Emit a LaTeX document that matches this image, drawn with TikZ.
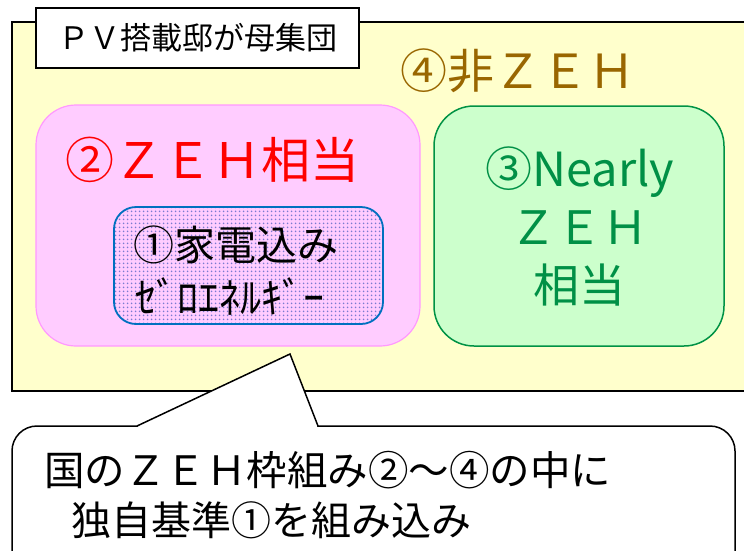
\documentclass[tikz,border=0pt]{standalone}
\usepackage{fontspec}
\setmainfont{Noto Sans CJK JP}
\usetikzlibrary{patterns.meta}
\definecolor{bgyellow}{HTML}{FFFFCC}
\definecolor{pinkfill}{HTML}{FFCCFF}
\definecolor{pinkline}{HTML}{FF99FF}
\definecolor{greenfill}{HTML}{CCFFCC}
\definecolor{greenline}{HTML}{009245}
\definecolor{greentext}{HTML}{009046}
\definecolor{browntext}{HTML}{996600}
\definecolor{blueline}{HTML}{0070C0}
\definecolor{dotcol}{HTML}{7A7AD0}
\tikzset{
  lbl/.style={inner sep=0pt, font=#1},
}
\begin{document}
\begin{tikzpicture}[x=1pt,y=-1pt]
\useasboundingbox (0,0) rectangle (744,550);
% outer population
\draw[fill=bgyellow, line width=1.5pt] (12,22) rectangle (770,391);
% title
\node[draw, fill=white, line width=1.8pt, minimum width=323pt, minimum height=60pt, inner sep=0pt] (title) at (197.5,38) {};
\node[lbl={\fontsize{31pt}{34pt}\selectfont}] (titletext) at (198,38) {ＰＶ搭載邸が母集団};
% non ZEH label
\node[lbl={\fontsize{47pt}{50pt}\selectfont}, text=browntext, anchor=west] (nonzeh) at (400,71) {④非ＺＥＨ};
% pink box
\draw[fill=pinkfill, draw=pinkline, line width=1.2pt, rounded corners=40pt] (36,105) rectangle (420,346);
\node[lbl={\fontsize{49pt}{52pt}\selectfont}, text=red] (zehtext) at (212,160) {②ＺＥＨ相当};
% inner box 1
\draw[fill=pinkfill, draw=none, rounded corners=22pt] (114,207) rectangle (383,324);
\fill[pattern={Dots[distance=4pt, radius=1.1pt]}, pattern color=dotcol, rounded corners=22pt] (114,207) rectangle (383,324);
\draw[draw=blueline, line width=1.8pt, rounded corners=22pt] (114,207) rectangle (383,324);
\node[lbl={\fontsize{41pt}{44pt}\selectfont}, anchor=west] (onea) at (133,245) {①家電込み};
\node[lbl={\fontsize{42pt}{44pt}\selectfont}, anchor=west] (oneb) at (135,297) {ｾﾞﾛｴﾈﾙｷﾞｰ};
% green box
\draw[fill=greenfill, draw=greenline, line width=1.5pt, rounded corners=40pt] (434,106) rectangle (724,346);
\node[lbl={\fontsize{47pt}{50pt}\selectfont}, text=greentext] (ga) at (580,172) {③Nearly};
\node[lbl={\fontsize{46pt}{50pt}\selectfont}, text=greentext] (gb) at (579,228) {ＺＥＨ};
\node[lbl={\fontsize{46pt}{50pt}\selectfont}, text=greentext] (gc) at (579,285) {相当};
% callout
\draw[fill=white, line width=1.5pt, rounded corners=25pt] (12,426) rectangle (735,590);
\coordinate (tip) at (290,354);
\coordinate (bl) at (137,426);
\coordinate (br) at (318,426);
\fill[white] (bl) -- (tip) -- (br) -- cycle;
\fill[white] (138,423.5) rectangle (317,428.5);
\draw[line width=1.5pt, line join=miter] (bl) -- (tip) -- (br);
\node[lbl={\fontsize{40.5pt}{44pt}\selectfont}, anchor=west] (cl1) at (44,470) {国のＺＥＨ枠組み②～④の中に};
\node[lbl={\fontsize{40pt}{44pt}\selectfont}, anchor=west] (cl2) at (71,520) {独自基準①を組み込み};
\end{tikzpicture}
\end{document}
